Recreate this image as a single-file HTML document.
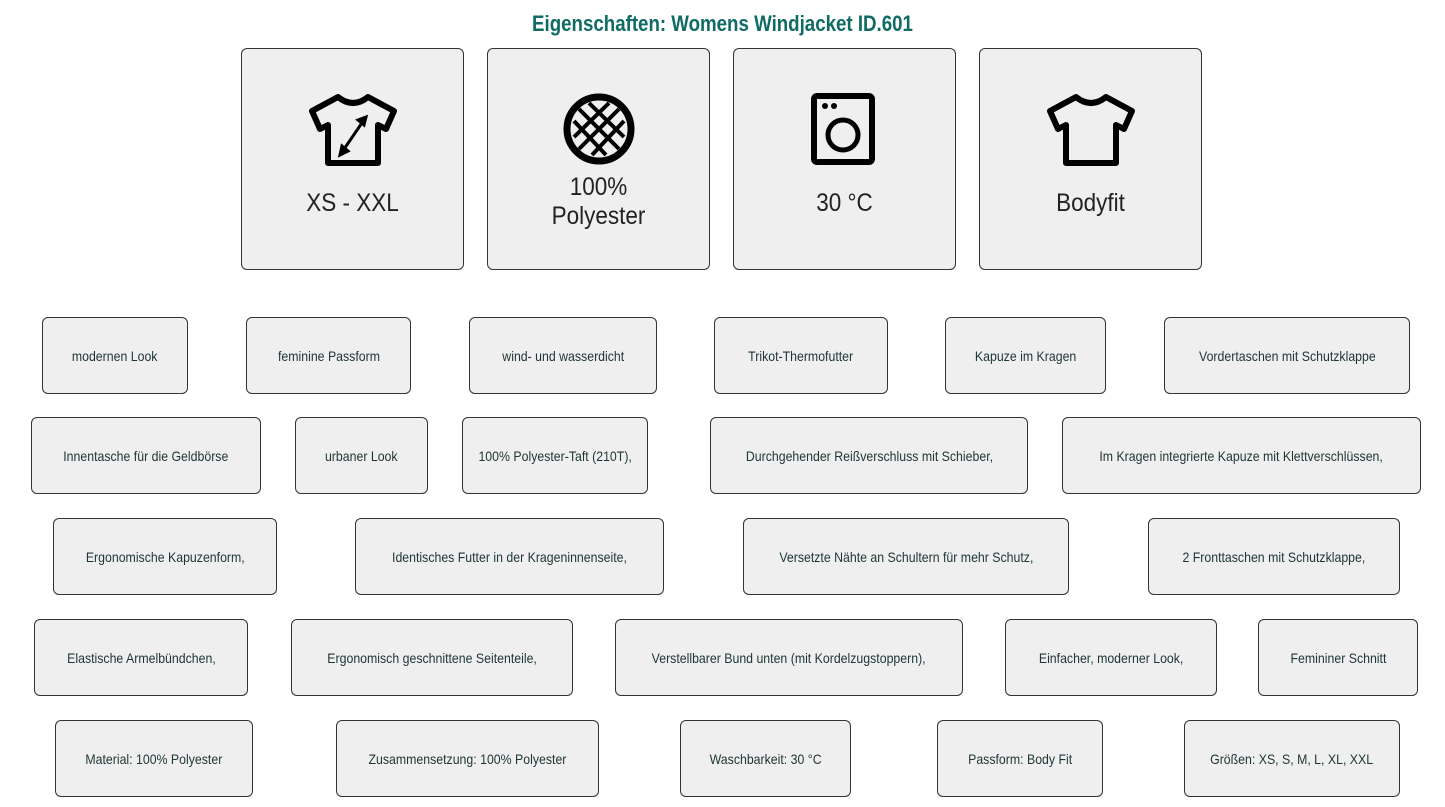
<!DOCTYPE html>
<html><head><meta charset="utf-8"><style>
body{margin:0;width:1445px;height:807px;background:#fff;position:relative;overflow:hidden;font-family:"Liberation Sans",sans-serif}
.t{position:absolute;left:0;width:1445px;top:11px;text-align:center;color:#0f6b63;font-weight:bold;font-size:22px;transform:scaleX(0.85)}
.c{position:absolute;top:48px;width:223px;height:222px;background:#efefef;border:1px solid #333;border-radius:6px;box-sizing:border-box}
.c svg{position:absolute;left:66px;top:42px}
.c .l{position:absolute;left:0;right:0;text-align:center;font-size:25px;color:#222;line-height:29px;transform:scaleX(0.9)}
.b{position:absolute;height:77px;background:#efefef;border:1px solid #333;border-radius:6px;box-sizing:border-box;display:flex;align-items:center;justify-content:center;color:#1e3535;white-space:nowrap}
.b span{font-size:14px;display:inline-block;transform:scaleX(0.88)}
</style></head><body>
<div class="t">Eigenschaften: Womens Windjacket ID.601</div>
<div class="c" style="left:241px"><svg width="90" height="80" viewBox="0 0 90 80"><path d="M30 6 Q45 18 60 6 L86 20 L78 38 L70 34 L70 72 L20 72 L20 34 L12 38 L4 20 Z" fill="none" stroke="#000" stroke-width="6" stroke-linejoin="round"/><line x1="32" y1="64" x2="58" y2="26" stroke="#000" stroke-width="3"/><path d="M58 26 L50 29 L56 34Z M32 64 L34 55 L40 60Z" stroke="#000" stroke-width="3"/></svg><div class="l" style="top:140px">XS - XXL</div></div>
<div class="c" style="left:487px"><svg width="90" height="80" viewBox="0 0 90 80"><circle cx="45" cy="38" r="32" fill="none" stroke="#000" stroke-width="7"/><g stroke="#000" stroke-width="4"><line x1="25" y1="18" x2="65" y2="58"/><line x1="20" y1="30" x2="52" y2="64"/><line x1="35" y1="12" x2="70" y2="46"/><line x1="65" y1="18" x2="25" y2="58"/><line x1="70" y1="30" x2="38" y2="64"/><line x1="55" y1="12" x2="20" y2="46"/></g></svg><div class="l" style="top:124px">100%<br>Polyester</div></div>
<div class="c" style="left:733px"><svg width="90" height="80" viewBox="0 0 90 80"><rect x="14" y="5" width="58" height="66" rx="3" fill="none" stroke="#000" stroke-width="6"/><circle cx="25" cy="15" r="3"/><circle cx="34" cy="15" r="3"/><circle cx="43" cy="44" r="15" fill="none" stroke="#000" stroke-width="5"/></svg><div class="l" style="top:140px">30 °C</div></div>
<div class="c" style="left:979px"><svg width="90" height="80" viewBox="0 0 90 80"><path d="M30 6 Q45 18 60 6 L86 20 L78 38 L70 34 L70 72 L20 72 L20 34 L12 38 L4 20 Z" fill="none" stroke="#000" stroke-width="6" stroke-linejoin="round"/></svg><div class="l" style="top:140px">Bodyfit</div></div>

<div class="b" style="top:317px;left:42px;width:146px"><span>modernen Look</span></div>
<div class="b" style="top:317px;left:246px;width:165px"><span>feminine Passform</span></div>
<div class="b" style="top:317px;left:469px;width:188px"><span>wind- und wasserdicht</span></div>
<div class="b" style="top:317px;left:714px;width:174px"><span>Trikot-Thermofutter</span></div>
<div class="b" style="top:317px;left:945px;width:161px"><span>Kapuze im Kragen</span></div>
<div class="b" style="top:317px;left:1164px;width:246px"><span>Vordertaschen mit Schutzklappe</span></div>

<div class="b" style="top:417px;left:31px;width:230px"><span>Innentasche für die Geldbörse</span></div>
<div class="b" style="top:417px;left:295px;width:133px"><span>urbaner Look</span></div>
<div class="b" style="top:417px;left:462px;width:186px"><span>100% Polyester-Taft (210T),</span></div>
<div class="b" style="top:417px;left:710px;width:318px"><span>Durchgehender Reißverschluss mit Schieber,</span></div>
<div class="b" style="top:417px;left:1062px;width:359px"><span>Im Kragen integrierte Kapuze mit Klettverschlüssen,</span></div>

<div class="b" style="top:518px;left:53px;width:224px"><span>Ergonomische Kapuzenform,</span></div>
<div class="b" style="top:518px;left:355px;width:309px"><span>Identisches Futter in der Krageninnenseite,</span></div>
<div class="b" style="top:518px;left:743px;width:326px"><span>Versetzte Nähte an Schultern für mehr Schutz,</span></div>
<div class="b" style="top:518px;left:1148px;width:252px"><span>2 Fronttaschen mit Schutzklappe,</span></div>

<div class="b" style="top:619px;left:34px;width:214px"><span>Elastische Armelbündchen,</span></div>
<div class="b" style="top:619px;left:291px;width:282px"><span>Ergonomisch geschnittene Seitenteile,</span></div>
<div class="b" style="top:619px;left:615px;width:348px"><span>Verstellbarer Bund unten (mit Kordelzugstoppern),</span></div>
<div class="b" style="top:619px;left:1005px;width:212px"><span>Einfacher, moderner Look,</span></div>
<div class="b" style="top:619px;left:1258px;width:160px"><span>Femininer Schnitt</span></div>

<div class="b" style="top:720px;left:55px;width:198px"><span>Material: 100% Polyester</span></div>
<div class="b" style="top:720px;left:336px;width:263px"><span>Zusammensetzung: 100% Polyester</span></div>
<div class="b" style="top:720px;left:680px;width:171px"><span>Waschbarkeit: 30 °C</span></div>
<div class="b" style="top:720px;left:937px;width:166px"><span>Passform: Body Fit</span></div>
<div class="b" style="top:720px;left:1184px;width:216px"><span>Größen: XS, S, M, L, XL, XXL</span></div>
</body></html>
